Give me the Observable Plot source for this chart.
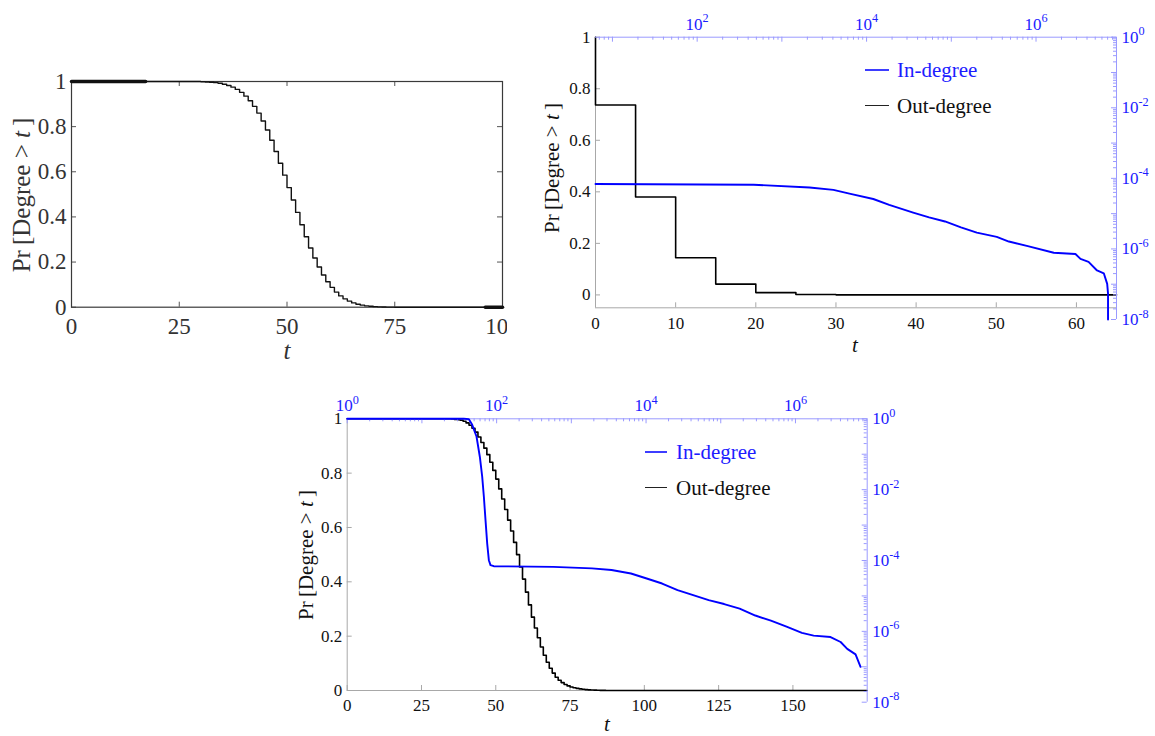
<!DOCTYPE html>
<html><head><meta charset="utf-8">
<script src="https://cdn.jsdelivr.net/npm/d3@7"></script>
<script src="https://cdn.jsdelivr.net/npm/@observablehq/plot@0.6"></script>
<style>
html,body{margin:0;padding:0;background:#fff;overflow:hidden}
#page{position:relative;width:1155px;height:736px;background:#fff;font-family:"Liberation Serif","Times New Roman",serif}
#page svg{position:absolute;left:0;top:0}
.lab{position:absolute;white-space:nowrap;line-height:1;font-family:"Liberation Serif","Times New Roman",serif}
.lab i{font-style:italic}
.clip{position:absolute;left:0;top:0;width:507px;height:736px;overflow:hidden}
</style></head><body><div id="page"></div>
<script>
// ---------------- DATA ----------------
// Panel 1: out-degree CCDF (step function over integer degree t)
const p1T = [0,30,31,32,33,34,35,36,37,38,39,40,41,42,43,44,45,46,47,48,49,50,51,52,53,54,55,56,57,58,59,60,61,62,63,64,65,66,67,68,69,70,71,72,73,74,75,100];
const p1P = [1,0.999,0.998,0.997,0.995,0.992,0.988,0.982,0.975,0.965,0.952,0.935,0.915,0.89,0.86,0.825,0.785,0.74,0.69,0.638,0.585,0.53,0.475,0.42,0.365,0.312,0.262,0.218,0.178,0.143,0.113,0.088,0.067,0.05,0.037,0.027,0.019,0.013,0.009,0.006,0.004,0.0025,0.0015,0.0008,0.0004,0.0002,0,0];
const p1HeavyT = [0,17.2,96,100];
const p1HeavyP = [1,1,0,0];
const p1HeavySeg = ["a","a","b","b"];
const p1XTicks = [0,25,50,75,100];
const p1YTicks = [0,0.2,0.4,0.6,0.8,1];

// Panel 2: out-degree (linear axes) and in-degree (log axes)
const p2OutT = [0,0,5,10,15,20,25,30,65];
const p2OutP = [1,0.737,0.38,0.144,0.042,0.009,0.0018,0.0003,0];
const p2InDeg = [6.31,465,2120,4060,6270,1.2e4,1.85e4,3.55e4,5.47e4,8.43e4,1.3e5,2.0e5,3.44e5,4.78e5,8.0e5,1.62e6,2.92e6,3.35e6,4.17e6,5.25e6,6.31e6,6.92e6,7.08e6,7.08e6];
const p2InCcdf = [6.9e-5,6.6e-5,5.5e-5,4.7e-5,3.7e-5,2.6e-5,1.78e-5,1.07e-5,7.8e-6,6.0e-6,4.1e-6,2.9e-6,2.2e-6,1.62e-6,1.2e-6,7.8e-7,7.2e-7,5.2e-7,4.3e-7,2.45e-7,2.04e-7,1.02e-7,5.4e-8,1e-8];
const p2XTicks = [0,10,20,30,40,50,60];
const p2YTicks = [0,0.2,0.4,0.6,0.8,1];
const p2TopLabels = [1e2,1e4,1e6];
const p2TopMajor = [10,1e2,1e3,1e4,1e5,1e6];

// Panel 3
const p3OutT = [0,34,35,36,37,38,39,40,41,42,43,44,45,46,47,48,49,50,51,52,53,54,55,56,57,58,59,60,61,62,63,64,65,66,67,68,69,70,71,72,73,74,75,76,77,78,79,80,81,82,83,84,85,86,87,88,175];
const p3OutP = [1,1,0.999,0.998,0.997,0.995,0.991,0.985,0.976,0.965,0.951,0.933,0.913,0.892,0.868,0.84,0.81,0.778,0.742,0.705,0.666,0.627,0.587,0.545,0.5,0.455,0.41,0.362,0.315,0.27,0.23,0.194,0.16,0.13,0.104,0.082,0.064,0.049,0.038,0.029,0.022,0.017,0.013,0.01,0.008,0.006,0.0045,0.0033,0.0024,0.0017,0.0012,0.0008,0.0005,0.0003,0.0001,0,0];
const p3InDeg = [1,36.4,42.5,47.1,53.8,59.6,64.1,67.5,71,74.8,78.7,82.8,91.6,573,1890,3450,6280,1.02e4,1.64e4,2.64e4,4.27e4,6.89e4,1.11e5,1.79e5,2.9e5,4.69e5,7.59e5,1.22e6,1.75e6,2.95e6,4.02e6,4.93e6,6.37e6,7.43e6];
const p3InCcdf = [1,1,0.977,0.676,0.316,0.085,0.0234,0.0063,0.00138,0.0003,1.02e-4,7.4e-5,6.9e-5,6.6e-5,6.0e-5,5.4e-5,4.3e-5,3.1e-5,2.24e-5,1.45e-5,1.05e-5,7.6e-6,5.9e-6,4.4e-6,2.8e-6,2.0e-6,1.35e-6,9.1e-7,7.6e-7,6.9e-7,5.0e-7,3.2e-7,2.24e-7,1.0e-7];
const p3XTicks = [0,25,50,75,100,125,150];
const p3YTicks = [0,0.2,0.4,0.6,0.8,1];
const p3TopLabels = [1,1e2,1e4,1e6];
const p3TopMajor = [1,10,1e2,1e3,1e4,1e5,1e6];

// right (log) axis shared by panels 2 and 3
const rightLabels = [1,1e-2,1e-4,1e-6,1e-8];
const rightMajor = [1,1e-1,1e-2,1e-3,1e-4,1e-5,1e-6,1e-7,1e-8];

const seriesNames = ["In-degree","Out-degree"];
const yTitle = "Pr\u2009[Degree > <i>t</i>\u2009]";

// ---------------- LAYOUT / STYLE ----------------
const W = 1155, H = 736;
const FONT = '"Liberation Serif","Times New Roman",serif';
const BLUE = "#0000ff", AXBLUE = "#9a9aff", LBLUE = "#1c1cff", GRAY = "#a8a8a8";
const F1 = {l:71, t:81, r:502, b:306.7};
const F2 = {l:595, t:36.7, r:1116, b:307.3};
const F2L = {l:595, t:36.7, r:1116, b:319};
const F3 = {l:346.7, t:418.3, r:866.7, b:690};
const F3L = {l:346.7, t:418.3, r:866.7, b:701.7};
const style = {background:"transparent", fontFamily:FONT, maxWidth:"none", overflow:"visible"};
const m = f => ({width:W, height:H, marginLeft:f.l, marginTop:f.t, marginRight:W-f.r, marginBottom:H-f.b});
const pw = f => f.r - f.l, ph = f => f.b - f.t;
const rows = (xs, ys, zs) => xs.map((x,i) => ({x, y: ys[i], z: zs ? zs[i] : 0}));
const sup = d => "10^" + Math.round(Math.log10(d));
const page = document.getElementById("page");

function inTicksLinear(F, xt, yt, color, len, mirror) {
  const marks = [
    Plot.ruleX(xt, {x:d=>d, stroke:color, insetTop: ph(F)-len}),
    Plot.ruleY(yt, {y:d=>d, stroke:color, insetRight: pw(F)-len})
  ];
  if (mirror) marks.push(
    Plot.ruleX(xt, {x:d=>d, stroke:color, insetBottom: ph(F)-len}),
    Plot.ruleY(yt, {y:d=>d, stroke:color, insetLeft: pw(F)-len}));
  return marks;
}

function logOverlay(F, xDomain, topMajor, topLabels, deg, ccdf) {
  const xs = d3.scaleLog().domain(xDomain).ticks();
  const ys = d3.scaleLog().domain([1e-8,1]).ticks();
  const isPow = v => Math.abs(Math.log10(v) - Math.round(Math.log10(v))) < 1e-9;
  return Plot.plot({
    ...m(F), style,
    x:{type:"log", domain:xDomain}, y:{type:"log", domain:[1e-8,1]},
    marks:[
      Plot.ruleX(xs.filter(v=>!isPow(v)), {x:d=>d, stroke:AXBLUE, insetBottom: ph(F)-3}),
      Plot.ruleX(topMajor, {x:d=>d, stroke:AXBLUE, insetBottom: ph(F)-5}),
      Plot.ruleY(ys.filter(v=>!isPow(v)), {y:d=>d, stroke:AXBLUE, insetLeft: pw(F)-3}),
      Plot.ruleY(rightMajor, {y:d=>d, stroke:AXBLUE, insetLeft: pw(F)-5}),
      Plot.ruleY([1], {y:d=>d, stroke:AXBLUE}),
      Plot.ruleX([xDomain[1]], {x:d=>d, stroke:AXBLUE}),
      Plot.axisX({anchor:"top", ticks:topLabels, tickSize:0, tickPadding:7.5, fontSize:17, color:LBLUE, tickFormat:sup, label:null}),
      Plot.axisY({anchor:"right", ticks:rightLabels, tickSize:0, tickPadding:5, fontSize:17, color:LBLUE, tickFormat:sup, label:null}),
      Plot.line(rows(deg, ccdf), {x:"x", y:"y", stroke:BLUE, strokeWidth:1.9})
    ]
  });
}

function fixSup(svg) {
  d3.select(svg).selectAll("text").each(function() {
    const mm = this.textContent.match(/^10\^(.*)$/);
    if (mm) {
      this.textContent = "10";
      d3.select(this).append("tspan").attr("font-size","0.72em").attr("dy","-0.6em").text(mm[1]);
    }
  });
  return svg;
}

// ---------------- PANEL 1 ----------------
const clip = document.createElement("div"); clip.className = "clip"; page.appendChild(clip);
clip.appendChild(Plot.plot({
  ...m(F1), style,
  x:{domain:[0,100]}, y:{domain:[0,1]},
  marks:[
    ...inTicksLinear(F1, p1XTicks, p1YTicks, "#555", 5, true),
    Plot.frame({stroke:"#3a3a3a", strokeWidth:1.2}),
    Plot.axisX({ticks:p1XTicks, tickSize:0, tickPadding:10, fontSize:23, color:"#333", tickFormat:d=>String(d), label:null}),
    Plot.axisY({ticks:p1YTicks, tickSize:0, tickPadding:5, fontSize:23, color:"#333", tickFormat:d=>String(d), label:null}),
    Plot.line(rows(p1T, p1P), {x:"x", y:"y", curve:"step-after", stroke:"#111", strokeWidth:1.4}),
    Plot.line(rows(p1HeavyT, p1HeavyP, p1HeavySeg), {x:"x", y:"y", z:"z", stroke:"#111", strokeWidth:3.5})
  ]
}));

// ---------------- PANEL 2 ----------------
page.appendChild(Plot.plot({
  ...m(F2), style,
  x:{domain:[0,65]}, y:{domain:[-0.05,1]},
  marks:[
    ...inTicksLinear(F2, p2XTicks, p2YTicks, GRAY, 5, false),
    Plot.ruleX([0], {x:d=>d, stroke:GRAY}),
    Plot.ruleY([-0.05], {y:d=>d, stroke:GRAY}),
    Plot.axisX({ticks:p2XTicks, tickSize:0, tickPadding:9, fontSize:17, color:"#111", tickFormat:d=>String(d), label:null}),
    Plot.axisY({ticks:p2YTicks, tickSize:0, tickPadding:5, fontSize:17, color:"#111", tickFormat:d=>String(d), label:null}),
    Plot.line(rows(p2OutT, p2OutP), {x:"x", y:"y", curve:"step-after", stroke:"#000", strokeWidth:1.6})
  ]
}));
page.appendChild(fixSup(logOverlay(F2L, [10**0.8, 10**6.95], p2TopMajor, p2TopLabels, p2InDeg, p2InCcdf)));

// ---------------- PANEL 3 ----------------
page.appendChild(Plot.plot({
  ...m(F3), style,
  x:{domain:[0,175]}, y:{domain:[0,1]},
  marks:[
    ...inTicksLinear(F3, p3XTicks, p3YTicks, GRAY, 5, false),
    Plot.ruleX([0], {x:d=>d, stroke:GRAY}),
    Plot.ruleY([0], {y:d=>d, stroke:GRAY}),
    Plot.axisX({ticks:p3XTicks, tickSize:0, tickPadding:8.5, fontSize:17, color:"#111", tickFormat:d=>String(d), label:null}),
    Plot.axisY({ticks:p3YTicks, tickSize:0, tickPadding:5, fontSize:17, color:"#111", tickFormat:d=>String(d), label:null}),
    Plot.line(rows(p3OutT, p3OutP), {x:"x", y:"y", curve:"step-after", stroke:"#000", strokeWidth:1.6})
  ]
}));
page.appendChild(fixSup(logOverlay(F3L, [1, 10**6.96], p3TopMajor, p3TopLabels, p3InDeg, p3InCcdf)));

// ---------------- TITLES & LEGENDS ----------------
function label(html, cx, cy, size, color, rotate) {
  const d = document.createElement("div");
  d.className = "lab"; d.innerHTML = html;
  d.style.left = cx + "px"; d.style.top = cy + "px";
  d.style.fontSize = size + "px"; d.style.color = color;
  d.style.transform = "translate(-50%,-50%)" + (rotate ? " rotate(-90deg)" : "");
  page.appendChild(d);
}
label(yTitle, 21, 195, 25, "#333", true);
label("<i>t</i>", 287, 350, 25, "#333", false);
label(yTitle, 552, 168, 21, "#111", true);
label("<i>t</i>", 855, 345, 21, "#111", false);
label(yTitle, 306, 555, 21, "#111", true);
label("<i>t</i>", 607, 724, 21, "#111", false);

function legend(x1, x2, tx, cys) {
  const cols = [LBLUE, "#111"], lc = ["#3d3dff", "#222"], lw = [2, 1.2];
  seriesNames.forEach((name, i) => {
    const ln = document.createElement("div");
    ln.style.cssText = `position:absolute;left:${x1}px;width:${x2-x1}px;top:${cys[i]-lw[i]/2}px;height:0;border-top:${lw[i]}px solid ${lc[i]}`;
    page.appendChild(ln);
    const t = document.createElement("div");
    t.className = "lab"; t.textContent = name;
    t.style.cssText += `left:${tx}px;top:${cys[i]}px;font-size:21px;color:${cols[i]};transform:translateY(-50%)`;
    page.appendChild(t);
  });
}
legend(865, 889, 897, [70, 106]);
legend(645, 667, 676, [452, 488]);
</script></body></html>
